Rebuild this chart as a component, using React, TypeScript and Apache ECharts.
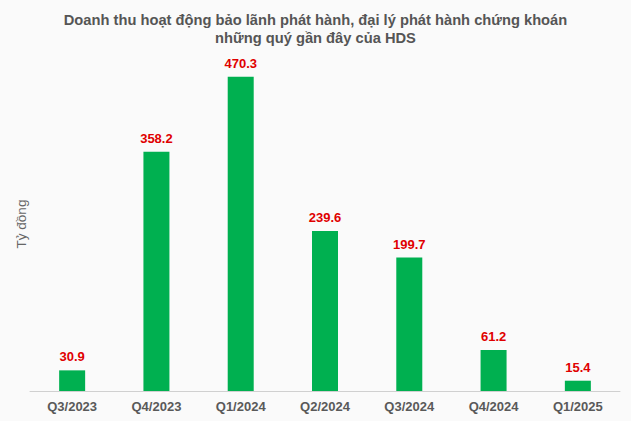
import React, { useEffect, useRef } from "react";
import * as echarts from "echarts";

const categories = ["Q3/2023", "Q4/2023", "Q1/2024", "Q2/2024", "Q3/2024", "Q4/2024", "Q1/2025"];
const revenue = [30.9, 358.2, 470.3, 239.6, 199.7, 61.2, 15.4];

const titleLines = [
    "Doanh thu hoạt động bảo lãnh phát hành, đại lý phát hành chứng khoán",
    "những quý gần đây của HDS",
];

const App = () => {
    const chartRef = useRef<HTMLDivElement>(null);

    useEffect(() => {
        document.body.style.margin = "0";
        if (!chartRef.current) return;

        const chart = echarts.init(chartRef.current, null, { renderer: "svg" });

        const options = {
            animation: false,
            backgroundColor: "#fafafa",
            textStyle: { fontFamily: "Liberation Sans, Arial, sans-serif" },
            title: {
                text: titleLines.join("\n"),
                left: "center",
                top: 6,
                textStyle: {
                    fontSize: 14.7,
                    fontWeight: "bold",
                    color: "#555555",
                    lineHeight: 18,
                },
            },
            grid: { left: 30, right: 11, top: 57, bottom: 30 },
            xAxis: {
                type: "category",
                data: categories,
                axisLine: { lineStyle: { color: "#d0d0d0", width: 1 } },
                axisTick: { show: false },
                axisLabel: {
                    color: "#595959",
                    fontSize: 13,
                    fontWeight: "bold",
                    margin: 9,
                },
            },
            yAxis: {
                type: "value",
                min: 0,
                max: 500,
                name: "Tỷ đồng",
                nameLocation: "middle",
                nameGap: 2,
                nameTextStyle: { color: "#666666", fontSize: 13.5 },
                axisLine: { show: false },
                axisTick: { show: false },
                axisLabel: { show: false },
                splitLine: { show: false },
            },
            series: [
                {
                    name: "Doanh thu",
                    type: "bar",
                    data: revenue,
                    barWidth: 26,
                    itemStyle: { color: "#00b050" },
                    label: {
                        show: true,
                        position: "top",
                        distance: 7,
                        color: "#e00000",
                        fontSize: 13,
                        fontWeight: "bold",
                        formatter: (p) => p.value.toFixed(1),
                    },
                },
            ],
        };

        chart.setOption(options);
        return () => chart.dispose();
    }, []);

    return <div ref={chartRef} style={{ width: "631px", height: "421px" }} />;
};

export default App;
